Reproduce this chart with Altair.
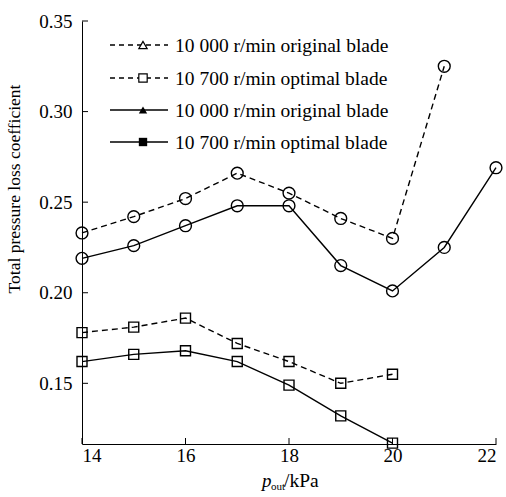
import altair as alt
import pandas as pd

# Outlet pressure (kPa)
p_out = [14, 15, 16, 17, 18, 19, 20, 21, 22]

# Total pressure loss coefficient for each case
orig_10000 = [0.233, 0.242, 0.252, 0.266, 0.255, 0.241, 0.230, 0.325, None]
orig_10700 = [0.219, 0.226, 0.237, 0.248, 0.248, 0.215, 0.201, 0.225, 0.269]
opt_10000 = [0.178, 0.181, 0.186, 0.172, 0.162, 0.150, 0.155, None, None]
opt_10700 = [0.162, 0.166, 0.168, 0.162, 0.149, 0.132, 0.117, None, None]

legend_labels = [
    "10 000 r/min original blade",
    "10 700 r/min optimal blade",
    "10 000 r/min original blade",
    "10 700 r/min optimal blade",
]
x_ticks = [14, 16, 18, 20, 22]
y_ticks = [0.15, 0.20, 0.25, 0.30, 0.35]

FONT = "Liberation Serif, Times New Roman, serif"
W, H = 414, 423

series = [
    ("a", orig_10000, "circle", 140, [6, 4]),
    ("b", orig_10700, "circle", 140, []),
    ("c", opt_10000, "square", 100, [6, 4]),
    ("d", opt_10700, "square", 100, []),
]

xs = alt.Scale(domain=[14, 22], nice=False, zero=False)
ys = alt.Scale(domain=[0.1165, 0.35], nice=False, zero=False)

x_axis = alt.Axis(values=x_ticks, format="d", ticks=False, grid=False,
                  domainColor="black", domainWidth=1, labelFont=FONT,
                  labelFontSize=19, labelColor="black", labelPadding=2,
                  title=None)
y_axis = alt.Axis(values=y_ticks, format=".2f", ticks=False, grid=False,
                  domainColor="black", domainWidth=1, labelFont=FONT,
                  labelFontSize=19, labelColor="black", labelPadding=10,
                  title=None)

layers = []
for key, vals, shape, size, dash in series:
    df = pd.DataFrame({"x": p_out, "y": vals}).dropna()
    base = alt.Chart(df).encode(
        x=alt.X("x:Q", scale=xs, axis=x_axis),
        y=alt.Y("y:Q", scale=ys, axis=y_axis),
    )
    line_kw = dict(color="black", strokeWidth=1.4)
    if dash:
        line_kw["strokeDash"] = dash
    layers.append(base.mark_line(**line_kw))
    layers.append(base.mark_point(shape=shape, size=size, filled=False,
                                  color="black", strokeWidth=1.4, opacity=1))

# inward tick marks
xt = alt.Chart(pd.DataFrame({"t": x_ticks})).mark_rule(color="black", strokeWidth=1).encode(
    x=alt.X("t:Q", scale=xs), y=alt.value(H), y2=alt.value(H - 6))
yt = alt.Chart(pd.DataFrame({"t": y_ticks})).mark_rule(color="black", strokeWidth=1).encode(
    y=alt.Y("t:Q", scale=ys), x=alt.value(0), x2=alt.value(6))
layers += [xt, yt]

# legend
leg_rows = [24, 57, 89, 121]
leg_shapes = ["triangle-up", "square", "triangle-up", "square"]
leg_filled = [False, False, True, True]
leg_dash = [[5, 4], [5, 4], [], []]
one = pd.DataFrame({"k": [0]})
for i, lab in enumerate(legend_labels):
    ry = leg_rows[i]
    rk = dict(color="black", strokeWidth=1.3)
    if leg_dash[i]:
        rk["strokeDash"] = leg_dash[i]
    layers.append(alt.Chart(one).mark_rule(**rk).encode(
        x=alt.value(28), x2=alt.value(86), y=alt.value(ry)))
    layers.append(alt.Chart(one).mark_point(
        shape=leg_shapes[i], size=70, filled=leg_filled[i], color="black",
        fill="black" if leg_filled[i] else "white", strokeWidth=1.2, opacity=1).encode(
        x=alt.value(61), y=alt.value(ry)))
    layers.append(alt.Chart(one).mark_text(
        align="left", baseline="middle", font=FONT, fontSize=19.5, color="black").encode(
        x=alt.value(93), y=alt.value(ry + 1), text=alt.value(lab)))

# axis titles
layers.append(alt.Chart(one).mark_text(
    angle=270, align="center", baseline="middle", font=FONT, fontSize=17.5, color="black").encode(
    x=alt.value(-67), y=alt.value(168), text=alt.value("Total pressure loss coefficient")))
layers.append(alt.Chart(one).mark_text(
    align="left", baseline="alphabetic", font=FONT, fontSize=19, fontStyle="italic", color="black").encode(
    x=alt.value(180), y=alt.value(466), text=alt.value("p")))
layers.append(alt.Chart(one).mark_text(
    align="left", baseline="alphabetic", font=FONT, fontSize=11, color="black").encode(
    x=alt.value(189), y=alt.value(469), text=alt.value("out")))
layers.append(alt.Chart(one).mark_text(
    align="left", baseline="alphabetic", font=FONT, fontSize=19.5, color="black").encode(
    x=alt.value(202), y=alt.value(466), text=alt.value("/kPa")))

chart = alt.layer(*layers).properties(
    width=W, height=H,
    autosize=alt.AutoSizeParams(type="none"),
    padding={"left": 82, "top": 21, "right": 10, "bottom": 53},
    background="white",
).configure_view(stroke=None)

chart.save("out.html", embed_options={"renderer": "svg", "actions": False})
